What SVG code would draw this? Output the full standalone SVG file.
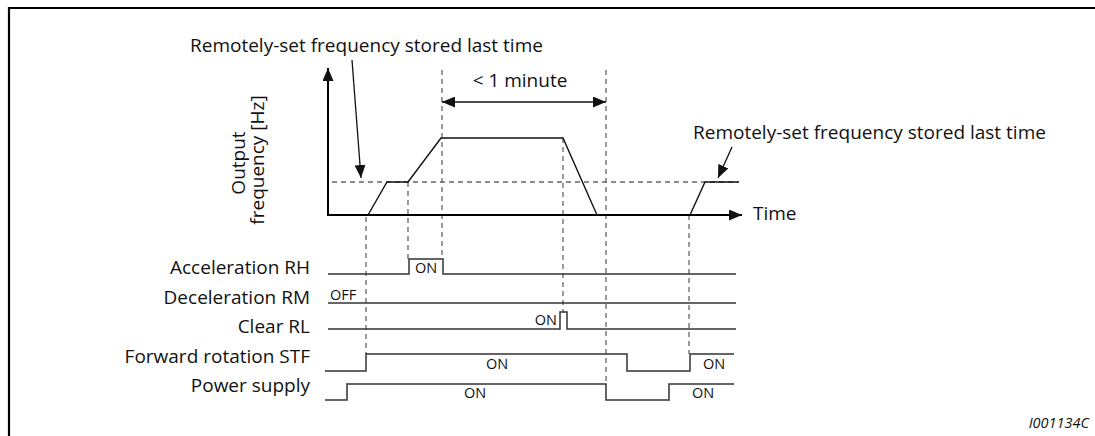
<svg xmlns="http://www.w3.org/2000/svg" width="1095" height="436" viewBox="0 0 1095 436">
<style>
text{font-family:"Open Sans","Liberation Sans",sans-serif;fill:#111}
.lbl{font-size:19px}
.sm{font-size:14.5px}
.ax{stroke:#000;stroke-width:2;fill:none}
.crv{stroke:#111;stroke-width:1.4;fill:none;stroke-linejoin:miter}
.sig{stroke:#333;stroke-width:1.5;fill:none}
.dash{stroke:#666;stroke-width:1.3;stroke-dasharray:5 4;fill:none}
.arr{stroke:#111;stroke-width:1.3;fill:none}
</style>
<defs>
<marker id="ah" markerUnits="userSpaceOnUse" markerWidth="13" markerHeight="11" refX="13" refY="5.5" orient="auto-start-reverse" viewBox="0 0 13 11">
<path d="M0,0 L13,5.5 L0,11 z" fill="#111"/>
</marker>
</defs>
<rect width="1095" height="436" fill="#fff"/>
<path d="M9,436 V8 H1095" fill="none" stroke="#000" stroke-width="2.2"/>

<g id="connectors">
<path class="dash" d="M332,182 H738"/>
<path class="dash" d="M366,217 V354"/>
<path class="dash" d="M408,182 V259"/>
<path class="dash" d="M442,70 V259"/>
<path class="dash" d="M563,138 V312"/>
<path class="dash" d="M606,70 V384"/>
<path class="dash" d="M689,215 V354"/>
<path class="arr" d="M352,60 L361,178" marker-end="url(#ah)"/>
<path class="arr" d="M732,147 L718,178" marker-end="url(#ah)"/>
<path class="arr" d="M442,102 H606" marker-start="url(#ah)" marker-end="url(#ah)"/>
</g>

<g id="axes">
<path class="ax" d="M328,215 V68" marker-end="url(#ah)"/>
<path class="ax" d="M327,215 H742" marker-end="url(#ah)"/>
<text class="lbl" x="753" y="220">Time</text>
<text class="lbl" transform="translate(245,163) rotate(-90)" text-anchor="middle">Output</text>
<text class="lbl" transform="translate(264,160) rotate(-90)" text-anchor="middle">frequency [Hz]</text>
</g>

<g id="curve">
<path class="crv" d="M368,215 L387,182 H408 L441,138 H563 L597,215"/>
<path class="crv" d="M690,215 L705,182 H739"/>
</g>

<g id="label-top">
<text class="lbl" x="190" y="52">Remotely-set frequency stored last time</text>
</g>
<g id="label-right">
<text class="lbl" x="693" y="139">Remotely-set frequency stored last time</text>
</g>
<g id="label-minute">
<text class="lbl" x="520" y="87" text-anchor="middle">&lt; 1 minute</text>
</g>

<g id="sig-rh">
<text class="lbl" x="310" y="274" text-anchor="end">Acceleration RH</text>
<path class="sig" d="M328,274 H409 V259 H443 V274 H736"/>
<text class="sm" x="426" y="273" text-anchor="middle">ON</text>
</g>
<g id="sig-rm">
<text class="lbl" x="310" y="304" text-anchor="end">Deceleration RM</text>
<path class="sig" d="M328,303 H736"/>
<text class="sm" x="330" y="300">OFF</text>
</g>
<g id="sig-rl">
<text class="lbl" x="310" y="333" text-anchor="end">Clear RL</text>
<path class="sig" d="M328,329 H560 V312 H567 V329 H736"/>
<text class="sm" x="557" y="325" text-anchor="end">ON</text>
</g>
<g id="sig-stf">
<text class="lbl" x="310" y="363" text-anchor="end">Forward rotation STF</text>
<path class="sig" d="M325,371 H366 V354 H627 V371 H690 V354 H734"/>
<text class="sm" x="497" y="369" text-anchor="middle">ON</text>
<text class="sm" x="714" y="369" text-anchor="middle">ON</text>
</g>
<g id="sig-power">
<text class="lbl" x="310" y="392" text-anchor="end">Power supply</text>
<path class="sig" d="M325,400 H347 V384 H606 V400 H669 V384 H734"/>
<text class="sm" x="475" y="398" text-anchor="middle">ON</text>
<text class="sm" x="703" y="398" text-anchor="middle">ON</text>
</g>

<g id="footer">
<text class="sm" x="1089" y="428" text-anchor="end" font-style="italic" font-size="15">I001134C</text>
</g>
</svg>
